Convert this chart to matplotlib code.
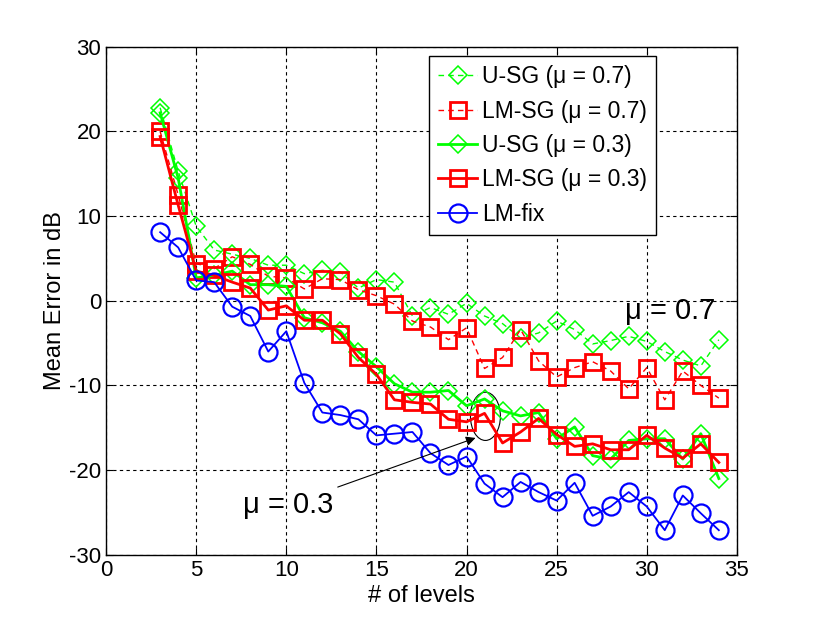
import numpy as np
import matplotlib
matplotlib.use('Agg')
import matplotlib.pyplot as plt
from matplotlib.patches import Ellipse

plt.rcParams['font.family'] = ['Liberation Sans', 'DejaVu Sans']
plt.rcParams['axes.unicode_minus'] = False

##### Data #############################################################
levels = list(range(3, 35))

usg_07 = [22.8, 15.3, 8.8, 6.0, 5.5, 5.0, 4.2, 4.2, 3.2, 3.6, 3.4, 1.5, 2.5, 2.2,
          -1.8, -0.8, -1.6, -0.3, -1.8, -2.7, -4.4, -3.8, -2.4, -3.4, -5.1, -4.7,
          -4.2, -4.8, -6.0, -7.0, -7.7, -4.6]
lmsg_07 = [20.0, 12.5, 4.4, 3.8, 5.2, 4.3, 2.9, 2.7, 1.4, 2.6, 2.5, 1.3, 0.6, -0.4,
           -2.4, -3.1, -4.6, -3.2, -8.0, -6.7, -3.4, -7.1, -9.0, -7.9, -7.2, -8.3,
           -10.4, -7.9, -11.7, -8.3, -10.0, -11.5]
usg_03 = [22.2, 14.5, 2.7, 3.0, 3.5, 1.9, 1.9, 1.7, -2.0, -2.6, -3.6, -6.0, -7.8,
          -9.8, -10.8, -10.8, -10.6, -12.4, -11.6, -13.0, -13.6, -13.2, -16.3,
          -14.9, -18.3, -18.7, -16.5, -16.3, -16.3, -18.7, -15.7, -21.0]
lmsg_03 = [19.4, 11.3, 3.5, 3.0, 2.2, 1.5, -1.1, -0.6, -2.3, -2.3, -3.9, -6.7, -8.7,
           -11.7, -12.0, -12.2, -14.0, -14.3, -13.3, -16.8, -15.5, -13.9, -15.8,
           -17.2, -16.9, -17.6, -17.6, -15.9, -17.4, -18.6, -16.9, -19.1]
lm_fix = [8.1, 6.3, 2.4, 2.2, -0.7, -1.8, -6.0, -3.6, -9.7, -13.2, -13.5, -14.0,
          -15.9, -15.7, -15.5, -18.0, -19.4, -18.4, -21.6, -23.2, -21.4, -22.6,
          -23.6, -21.5, -25.4, -24.3, -22.6, -24.3, -27.1, -23.0, -25.1, -27.1]

x_ticks = [0, 5, 10, 15, 20, 25, 30, 35]
y_ticks = [-30, -20, -10, 0, 10, 20, 30]

##### Create plot ######################################################
fig = plt.figure(figsize=(8.16, 6.24), dpi=100)
ax = fig.add_axes([0.130, 0.111, 0.773, 0.814])

dash = (0, (4, 3))
ax.plot(levels, usg_07, color='#00ff00', linestyle=dash, linewidth=1.0,
        marker='D', markersize=9.5, markerfacecolor='none', markeredgewidth=1.1,
        label='U-SG (\u03bc = 0.7)')
ax.plot(levels, lmsg_07, color='#ff0000', linestyle=dash, linewidth=1.0,
        marker='s', markersize=12, markerfacecolor='none', markeredgewidth=2,
        label='LM-SG (\u03bc = 0.7)')
ax.plot(levels, usg_03, color='#00ff00', linestyle='-', linewidth=2,
        marker='D', markersize=9.5, markerfacecolor='none', markeredgewidth=1.1,
        label='U-SG (\u03bc = 0.3)')
ax.plot(levels, lmsg_03, color='#ff0000', linestyle='-', linewidth=2,
        marker='s', markersize=12, markerfacecolor='none', markeredgewidth=2,
        label='LM-SG (\u03bc = 0.3)')
ax.plot(levels, lm_fix, color='#0000ff', linestyle='-', linewidth=1.3,
        marker='o', markersize=13, markerfacecolor='none', markeredgewidth=1.6,
        label='LM-fix')

##### Axes, grid and ticks #############################################
ax.set_xlim(0, 35)
ax.set_ylim(-30, 30)
ax.set_xticks(x_ticks)
ax.set_yticks(y_ticks)
ax.grid(True, color='black', linestyle=(0, (3, 3)), linewidth=0.8)
ax.tick_params(direction='in', top=True, right=True, labelsize=16, length=5)
for sp in ax.spines.values():
    sp.set_linewidth(1.0)
ax.set_xlabel('# of levels', fontsize=17, labelpad=3)
ax.set_ylabel('Mean Error in dB', fontsize=17, labelpad=2)

##### Legend ###########################################################
leg = ax.legend(loc='upper left', bbox_to_anchor=(0.512, 0.982), fontsize=16.5,
                fancybox=False, framealpha=1, edgecolor='black',
                handlelength=1.7, handletextpad=0.2, labelspacing=0.5,
                borderpad=0.4, borderaxespad=0)
leg.get_frame().set_linewidth(1.0)

##### Annotations ######################################################
ax.text(31.3, -1.2, '\u03bc = 0.7', fontsize=21, ha='center', va='center')
ax.add_patch(Ellipse((21.05, -13.65), 1.66, 5.7, fill=False,
                     edgecolor='black', linewidth=0.8))
ax.annotate('\u03bc = 0.3', xy=(20.5, -16.2), xytext=(10.1, -24.1),
            fontsize=21, ha='center', va='center',
            arrowprops=dict(arrowstyle='-|>', color='black', lw=0.8,
                            mutation_scale=14, shrinkA=2, shrinkB=0))

plt.savefig('out.png', dpi=100)
